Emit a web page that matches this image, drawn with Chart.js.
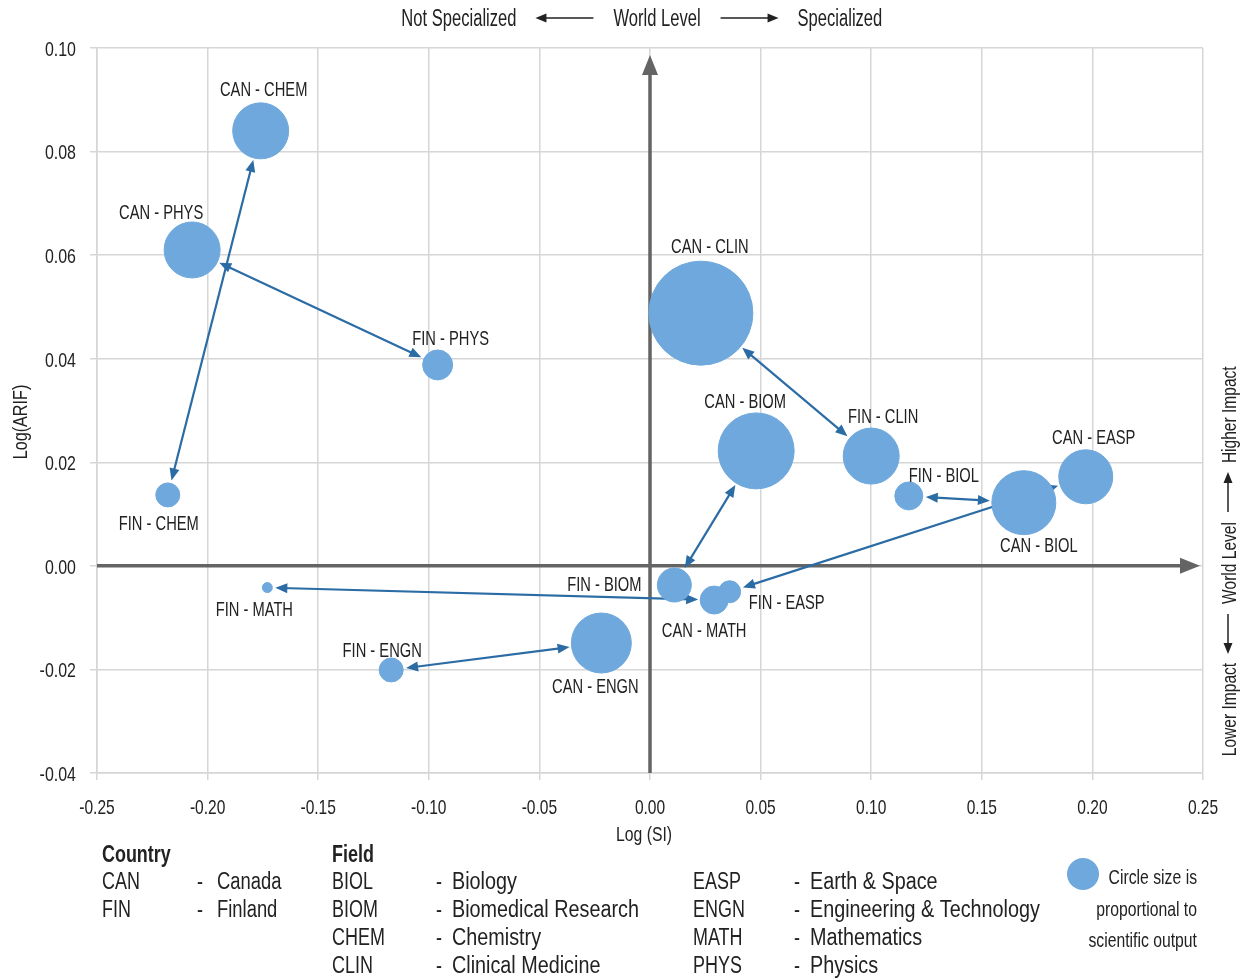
<!DOCTYPE html>
<html>
<head>
<meta charset="utf-8">
<script src="https://cdn.jsdelivr.net/npm/chart.js@4.4.1/dist/chart.umd.min.js"></script>
<style>
  html, body { margin: 0; padding: 0; background: #fff; }
  #chart { display: block; }
</style>
</head>
<body>
<canvas id="chart" width="1249" height="979"></canvas>

<script>
// fields compared between the two countries
const fields = ['CHEM', 'PHYS', 'CLIN', 'BIOM', 'BIOL', 'EASP', 'MATH', 'ENGN'];

// Canada
const canSI   = [-0.176, -0.207, 0.023, 0.048, 0.169, 0.197, 0.029, -0.022];
const canARIF = [0.084, 0.061, 0.0488, 0.0222, 0.0122, 0.0172, -0.0066, -0.0149];
const canSize = [28, 28, 52, 38, 32, 27, 14, 30];

// Finland
const finSI   = [-0.218, -0.096, 0.100, 0.011, 0.117, 0.036, -0.173, -0.117];
const finARIF = [0.0137, 0.0388, 0.0212, -0.0037, 0.0135, -0.005, -0.0042, -0.0201];
const finSize = [12, 15, 28, 17, 14, 11, 5, 12];

// tick labels
const xTicks = [-0.25, -0.20, -0.15, -0.10, -0.05, 0, 0.05, 0.10, 0.15, 0.20, 0.25];
const yTicks = [-0.04, -0.02, 0, 0.02, 0.04, 0.06, 0.08, 0.10];

// legend text
const countryCodes = ['CAN', 'FIN'];
const countryNames = ['Canada', 'Finland'];
const fieldCodes = ['BIOL', 'BIOM', 'CHEM', 'CLIN', 'EASP', 'ENGN', 'MATH', 'PHYS'];
const fieldNames = ['Biology', 'Biomedical Research', 'Chemistry', 'Clinical Medicine',
                    'Earth & Space', 'Engineering & Technology', 'Mathematics', 'Physics'];

// where each label sits relative to its bubble (px)
const canLabelOffset = [[3, -43], [-31, -39], [9, -68], [-11, -51], [15, 42], [8, -41], [-10, 29], [-6, 42]];
const finLabelOffset = [[-9, 27], [13, -28], [12, -41], [-70, -2], [35, -22], [57, 9], [-13, 21], [-9, -21]];

const FONT = '"Liberation Sans", Arial, sans-serif';
const TEXT = '#222';
const BUBBLE = '#6fa8dc';
const ARROW = '#2b6ca5';
const AXIS = '#646464';
const GRID = '#d6d6d6';

function toPoints(xs, ys, rs) {
  return xs.map((x, i) => ({ x: x, y: ys[i], r: rs[i] }));
}

// condensed text: the reference uses a narrow face, so squeeze horizontally
function cText(ctx, str, x, y, align, size, sx, bold) {
  ctx.save();
  ctx.font = (bold ? 'bold ' : '') + size + 'px ' + FONT;
  ctx.textAlign = align;
  ctx.textBaseline = 'middle';
  ctx.translate(x, y + 2);
  ctx.scale(sx, 1);
  ctx.fillText(str, 0, 0);
  ctx.restore();
}
function cWidth(ctx, str, size, sx) {
  ctx.save();
  ctx.font = size + 'px ' + FONT;
  const w = ctx.measureText(str).width * sx;
  ctx.restore();
  return w;
}

// little filled arrow head at (x,y) pointing along angle
function arrowHead(ctx, x, y, ang, len, half) {
  ctx.beginPath();
  ctx.moveTo(x, y);
  ctx.lineTo(x - len * Math.cos(ang) + half * Math.sin(ang), y - len * Math.sin(ang) - half * Math.cos(ang));
  ctx.lineTo(x - len * Math.cos(ang) - half * Math.sin(ang), y - len * Math.sin(ang) + half * Math.cos(ang));
  ctx.closePath();
  ctx.fill();
}

// "left <--- mid ---> right" laid out along +x around cx
function drawSpanText(ctx, cx, cy, left, mid, right, size, sx, gapIn, lineLen, gapOut) {
  const wm = cWidth(ctx, mid, size, sx);
  cText(ctx, mid, cx, cy, 'center', size, sx);
  const l0 = cx - wm / 2 - gapIn, l1 = l0 - lineLen;
  const r0 = cx + wm / 2 + gapIn, r1 = r0 + lineLen;
  ctx.beginPath();
  ctx.moveTo(l0, cy); ctx.lineTo(l1 + 6, cy);
  ctx.moveTo(r0, cy); ctx.lineTo(r1 - 6, cy);
  ctx.stroke();
  arrowHead(ctx, l1, cy, Math.PI, 11, 4.5);
  arrowHead(ctx, r1, cy, 0, 11, 4.5);
  cText(ctx, left, l1 - gapOut, cy, 'right', size, sx);
  cText(ctx, right, r1 + gapOut, cy, 'left', size, sx);
}

const overlay = {
  id: 'overlay',
  beforeDatasetsDraw(chart) {
    const ctx = chart.ctx;
    const xs = chart.scales.x, ys = chart.scales.y;
    const area = chart.chartArea;
    ctx.save();

    // centre axes with arrows
    const x0 = xs.getPixelForValue(0), y0 = ys.getPixelForValue(0);
    ctx.strokeStyle = AXIS; ctx.fillStyle = AXIS; ctx.lineWidth = 3.5;
    ctx.beginPath();
    ctx.moveTo(x0, area.bottom); ctx.lineTo(x0, area.top + 20);
    ctx.moveTo(area.left, y0); ctx.lineTo(area.right - 20, y0);
    ctx.stroke();
    arrowHead(ctx, x0, area.top + 7, -Math.PI / 2, 20, 8);
    arrowHead(ctx, area.right - 3, y0, 0, 20, 8);

    // connectors between Canada and Finland for the same field
    ctx.strokeStyle = ARROW; ctx.fillStyle = ARROW; ctx.lineWidth = 2.2;
    fields.forEach((f, i) => {
      const ax = xs.getPixelForValue(canSI[i]), ay = ys.getPixelForValue(canARIF[i]);
      const bx = xs.getPixelForValue(finSI[i]), by = ys.getPixelForValue(finARIF[i]);
      const d = Math.hypot(bx - ax, by - ay);
      const ux = (bx - ax) / d, uy = (by - ay) / d;
      const sx = ax + ux * (canSize[i] + 2), sy = ay + uy * (canSize[i] + 2);
      const ex = bx - ux * (finSize[i] + 3), ey = by - uy * (finSize[i] + 3);
      ctx.beginPath();
      ctx.moveTo(sx + ux * 6, sy + uy * 6);
      ctx.lineTo(ex - ux * 6, ey - uy * 6);
      ctx.stroke();
      const ang = Math.atan2(uy, ux);
      arrowHead(ctx, sx, sy, ang + Math.PI, 12, 5);
      arrowHead(ctx, ex, ey, ang, 12, 5);
    });
    ctx.restore();
  },
  afterDatasetsDraw(chart) {
    const ctx = chart.ctx;
    const xs = chart.scales.x, ys = chart.scales.y;
    const area = chart.chartArea;
    ctx.save();
    ctx.fillStyle = TEXT;

    // tick labels from the scales' own ticks
    xs.ticks.forEach(t => {
      cText(ctx, t.value.toFixed(2), xs.getPixelForValue(t.value), area.bottom + 33, 'center', 21, 0.74);
    });
    ys.ticks.forEach(t => {
      cText(ctx, t.value.toFixed(2), area.left - 21, ys.getPixelForValue(t.value), 'right', 21, 0.76);
    });

    // bubble labels
    fields.forEach((f, i) => {
      let px = xs.getPixelForValue(canSI[i]), py = ys.getPixelForValue(canARIF[i]);
      cText(ctx, 'CAN - ' + f, px + canLabelOffset[i][0], py + canLabelOffset[i][1], 'center', 21, 0.70);
      px = xs.getPixelForValue(finSI[i]); py = ys.getPixelForValue(finARIF[i]);
      cText(ctx, 'FIN - ' + f, px + finLabelOffset[i][0], py + finLabelOffset[i][1], 'center', 21, 0.70);
    });

    // axis titles
    cText(ctx, 'Log (SI)', 644, 833, 'center', 21, 0.75);
    ctx.save();
    ctx.translate(21, 422);
    ctx.rotate(-Math.PI / 2);
    cText(ctx, 'Log(ARIF)', 0, -2, 'center', 21, 0.77);
    ctx.restore();

    // direction hints
    ctx.strokeStyle = '#222'; ctx.fillStyle = '#222'; ctx.lineWidth = 1.5;
    drawSpanText(ctx, 657, 18, 'Not Specialized', 'World Level', 'Specialized', 23, 0.72, 20, 58, 19);
    ctx.save();
    ctx.translate(1228, 563);
    ctx.rotate(-Math.PI / 2);
    drawSpanText(ctx, 0, 0, 'Lower Impact', 'World Level', 'Higher Impact', 21, 0.74, 10, 40, 9);
    ctx.restore();

    // legend
    ctx.fillStyle = TEXT;
    const rows = [881, 909, 937, 965];
    cText(ctx, 'Country', 102, 854, 'left', 23, 0.78, true);
    countryCodes.forEach((c, i) => {
      cText(ctx, c, 102, rows[i], 'left', 23, 0.78);
      cText(ctx, '-', 197, rows[i], 'left', 23, 0.78);
      cText(ctx, countryNames[i], 217, rows[i], 'left', 23, 0.8);
    });
    cText(ctx, 'Field', 332, 854, 'left', 23, 0.78, true);
    fieldCodes.forEach((c, i) => {
      const col = i < 4 ? 0 : 1, r = rows[i % 4];
      const cx = col ? 693 : 332, dx = col ? 794 : 436;
      cText(ctx, c, cx, r, 'left', 23, 0.78);
      cText(ctx, '-', dx, r, 'left', 23, 0.78);
      cText(ctx, fieldNames[i], dx + 16, r, 'left', 23, 0.86);
    });
    ctx.fillStyle = BUBBLE;
    ctx.beginPath();
    ctx.arc(1083, 874, 16, 0, Math.PI * 2);
    ctx.fill();
    ctx.fillStyle = TEXT;
    cText(ctx, 'Circle size is', 1197, 876, 'right', 21, 0.75);
    cText(ctx, 'proportional to', 1197, 908, 'right', 21, 0.75);
    cText(ctx, 'scientific output', 1197, 939, 'right', 21, 0.75);
    ctx.restore();
  }
};

new Chart(document.getElementById('chart').getContext('2d'), {
  type: 'bubble',
  data: {
    datasets: [
      { label: 'Canada', data: toPoints(canSI, canARIF, canSize),
        backgroundColor: BUBBLE, borderColor: BUBBLE, borderWidth: 1 },
      { label: 'Finland', data: toPoints(finSI, finARIF, finSize),
        backgroundColor: BUBBLE, borderColor: BUBBLE, borderWidth: 1 }
    ]
  },
  options: {
    responsive: false,
    animation: false,
    devicePixelRatio: 1,
    layout: { autoPadding: false, padding: { top: 48, right: 46, bottom: 126, left: 0 } },
    plugins: { legend: { display: false }, tooltip: { enabled: false } },
    scales: {
      x: {
        type: 'linear', min: -0.25, max: 0.25,
        afterBuildTicks: s => { s.ticks = xTicks.map(v => ({ value: v })); },
        afterFit: s => { s.height = 80; },
        ticks: { display: false },
        grid: { color: GRID, lineWidth: 1.5, tickLength: 7 },
        border: { color: GRID, width: 1.5 }
      },
      y: {
        type: 'linear', min: -0.04, max: 0.10,
        afterBuildTicks: s => { s.ticks = yTicks.map(v => ({ value: v })); },
        afterFit: s => { s.width = 97; },
        ticks: { display: false },
        grid: { color: GRID, lineWidth: 1.5, tickLength: 7 },
        border: { color: GRID, width: 1.5 }
      }
    }
  },
  plugins: [overlay]
});
</script>
</body>
</html>
